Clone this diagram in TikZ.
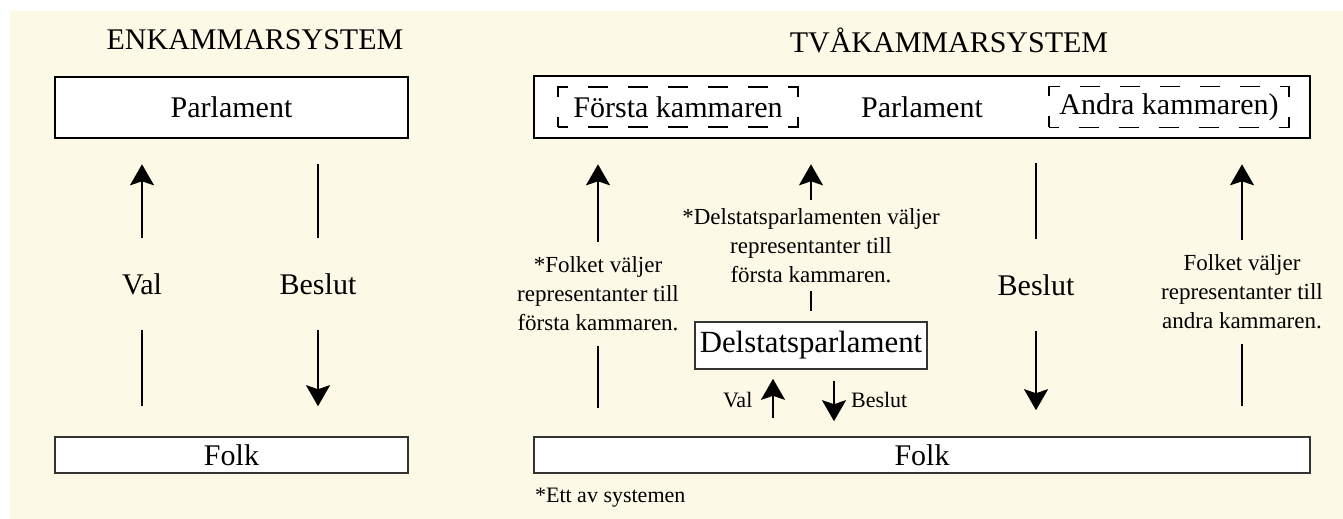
\documentclass[tikz,border=0pt]{standalone}
\usepackage{fontspec}
\setmainfont{Liberation Serif}
\usetikzlibrary{arrows.meta}
\definecolor{cream}{HTML}{FCF9E6}

\begin{document}
\begin{tikzpicture}[x=0.5pt,y=-0.5pt,
  title/.style={font=\fontsize{15}{18}\selectfont},
  box/.style={draw, fill=white, line width=1.3pt, font=\fontsize{15}{18}\selectfont},
  folkbox/.style={draw=black!80, fill=white, line width=0.8pt, inner ysep=1pt,
    minimum height=18pt, font=\fontsize{15}{18}\selectfont},
  dashbox/.style={draw, line width=0.6pt, dash pattern=on 10pt off 10pt, dash phase=5pt,
    minimum width=120pt, minimum height=20pt, font=\fontsize{15}{18}\selectfont},
  lbl/.style={font=\fontsize{15}{18}\selectfont, minimum height=46pt},
  note/.style={font=\fontsize{11.5}{14.5}\selectfont, align=center, inner ysep=1pt},
  small/.style={font=\fontsize{11}{13}\selectfont},
  up/.style={line width=1pt, -{Stealth[length=10.5pt,width=12pt,inset=2pt]}},
  stub/.style={line width=1pt}]

  \fill[cream] (10,11) rectangle (1343,519);
  \useasboundingbox (0,0) rectangle (1343,519);

  % enkammarsystem
  \node[title] (titleL) at (255,40) {ENKAMMARSYSTEM};
  \node[box, minimum width=176.5pt, minimum height=30.5pt] (parlL) at (231.5,107.5) {Parlament};
  \node[folkbox, minimum width=176.5pt] (folkL) at (231.5,455) {Folk};
  \node[lbl] (valL) at (142,284) {Val};
  \node[lbl] (beslutL) at (318,284) {Beslut};
  \draw[up, shorten >=12.5pt] (valL) -- (valL |- parlL.south);
  \draw[stub, shorten >=15pt] (valL) -- (valL |- folkL.north);
  \draw[stub, shorten >=12.5pt] (beslutL) -- (beslutL |- parlL.south);
  \draw[up, shorten >=15pt] (beslutL) -- (beslutL |- folkL.north);

  % tvakammarsystem
  \node[title] (titleR) at (949,40) {TVÅKAMMARSYSTEM};
  \node[box, minimum width=388pt, minimum height=31pt] (parlR) at (922,107) {Parlament};
  \node[dashbox] (forsta) at (678,107) {Första kammaren};
  \node[dashbox] (andra) at (1169,107) {Andra kammaren)};
  \node[folkbox, minimum width=388pt] (folkR) at (922,455) {Folk};
  \node[draw=black!80, fill=white, line width=0.8pt, inner xsep=2.5pt,
    minimum width=116pt, minimum height=23.5pt,
    font=\fontsize{15.4}{18}\selectfont] (delstat) at (811,345.5) {Delstatsparlament};

  \node[note, minimum height=52pt] (folkF) at (598,294) {*Folket väljer\\representanter till\\första kammaren.};
  \draw[up, shorten >=12.5pt] (folkF) -- (folkF |- parlR.south);
  \draw[stub, shorten >=14pt] (folkF) -- (folkF |- folkR.north);

  \node[note, minimum height=45.5pt] (delF) at (811,245.5) {*Delstatsparlamenten väljer\\representanter till\\första kammaren.};
  \draw[up, shorten >=12.5pt] (delF) -- (delF |- parlR.south);
  \draw[stub, shorten >=5pt] (delF) -- (delstat);

  \node[lbl] (beslutR) at (1036,285) {Beslut};
  \draw[stub, shorten >=12pt] (beslutR) -- (beslutR |- parlR.south);
  \draw[up, shorten >=13pt] (beslutR) -- (beslutR |- folkR.north);

  \node[note, minimum height=52pt] (folkA) at (1242,292) {Folket väljer\\representanter till\\andra kammaren.};
  \draw[up, shorten >=12.5pt] (folkA) -- (folkA |- parlR.south);
  \draw[stub, shorten >=15pt] (folkA) -- (folkA |- folkR.north);

  % delstat - folk
  \coordinate (valTop) at ([xshift=-19pt]delstat.south);
  \coordinate (beslutTop) at ([xshift=11.5pt]delstat.south);
  \draw[up, shorten <=9pt, shorten >=4.5pt] (valTop |- folkR.north)
    -- node[pos=0.55, left=6.5pt, small] (valS) {Val} (valTop);
  \draw[up, shorten <=5.5pt, shorten >=7.5pt] (beslutTop)
    -- node[pos=0.45, right=4.7pt, small] (beslutS) {Beslut} (beslutTop |- folkR.north);

  \node[small, anchor=west] (ettav) at (528,498) {*Ett av systemen};
\end{tikzpicture}
\end{document}
